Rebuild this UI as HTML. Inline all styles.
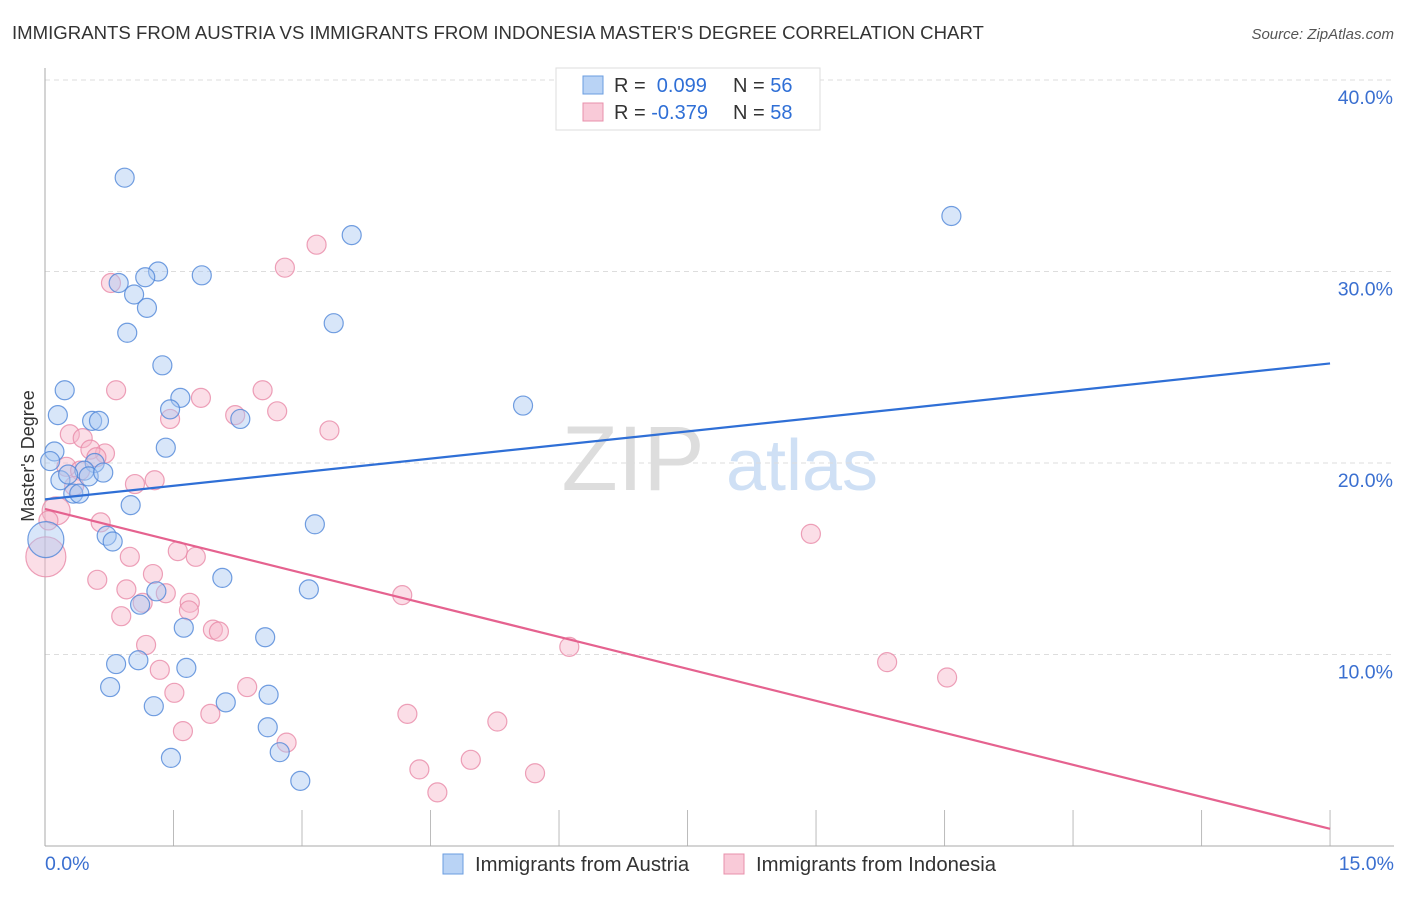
<!DOCTYPE html>
<html><head><meta charset="utf-8"><style>
body{margin:0;background:#fff;font-family:"Liberation Sans",sans-serif}
svg text{font-family:"Liberation Sans",sans-serif}
</style></head><body>
<svg id="chart" width="1406" height="892">
<text x="12" y="39" font-size="18.6" fill="#333">IMMIGRANTS FROM AUSTRIA VS IMMIGRANTS FROM INDONESIA MASTER'S DEGREE CORRELATION CHART</text>
<text x="1394" y="39" font-size="15" fill="#555" font-style="italic" text-anchor="end">Source: ZipAtlas.com</text>
<g>
<text x="633" y="490" font-size="92" fill="#ddd" font-family="Liberation Serif, serif" text-anchor="middle">ZIP</text>
<text x="802" y="490" font-size="72" fill="#cfe0f5" text-anchor="middle">atlas</text>
</g>
<g id="grid"></g>
<line x1="45" y1="68" x2="45" y2="846" stroke="#aaa"/>
<line x1="45" y1="846" x2="1394" y2="846" stroke="#aaa"/>
<text x="34" y="456" font-size="18" fill="#333" transform="rotate(-90 34 456)" text-anchor="middle">Master's Degree</text>
<text x="45" y="870" font-size="19.5" fill="#3a6fd0">0.0%</text>
<text x="1394" y="870" font-size="19.5" fill="#3a6fd0" text-anchor="end">15.0%</text>
<g id="points"></g>
<g id="trends"></g>
<g>
<rect x="556" y="68" width="264" height="62" fill="#fff" stroke="#ddd"/>
<rect x="583" y="76" width="20" height="18" fill="#b9d3f5" stroke="#6a9de0"/>
<rect x="583" y="103" width="20" height="18" fill="#f9cad8" stroke="#e890ab"/>
<text x="614" y="92" font-size="20" fill="#333">R = <tspan fill="#2f6fd6">&#160;0.099</tspan><tspan x="733">N = </tspan><tspan fill="#2f6fd6">56</tspan></text>
<text x="614" y="119" font-size="20" fill="#333">R = <tspan fill="#2f6fd6">-0.379</tspan><tspan x="733">N = </tspan><tspan fill="#2f6fd6">58</tspan></text>
</g>
<g>
<rect x="443" y="854" width="20" height="20" fill="#b9d3f5" stroke="#6a9de0"/>
<text x="475" y="871" font-size="20.3" fill="#333">Immigrants from Austria</text>
</g>
<g>
<rect x="724" y="854" width="20" height="20" fill="#f9cad8" stroke="#e890ab"/>
<text x="756" y="871" font-size="20.3" fill="#333">Immigrants from Indonesia</text>
</g>
</svg>
<script>
const yTicks=[10,20,30,40];
const yTickLabels=["10.0%","20.0%","30.0%","40.0%"];
const xTicks=[1.5,3,4.5,6,7.5,9,10.5,12,13.5,15];
const austriaX=[0.93,10.58,3.58,1.32,1.17,1.83,0.86,1.04,1.19,3.37,0.96,1.37,0.23,1.58,5.58,0.15,1.46,0.55,0.63,2.28,1.41,0.11,0.06,0.58,0.46,0.18,0.51,0.68,0.27,0.33,0.40,1.00,3.15,0.72,0.79,0.01,2.07,3.08,1.30,1.11,1.62,2.57,1.09,0.83,1.65,0.76,1.27,2.61,2.11,2.60,1.47,2.74,2.98];
const austriaY=[34.9,32.9,31.9,30.0,29.7,29.8,29.4,28.8,28.1,27.3,26.8,25.1,23.8,23.4,23.0,22.5,22.8,22.2,22.2,22.3,20.8,20.6,20.1,20.0,19.6,19.1,19.3,19.5,19.4,18.4,18.4,17.8,16.8,16.2,15.9,16.0,14.0,13.4,13.3,12.6,11.4,10.9,9.7,9.5,9.3,8.3,7.3,7.9,7.5,6.2,4.6,4.9,3.4];
const indoX=[0.77,3.17,2.80,0.83,1.82,2.54,1.46,2.71,2.22,3.32,0.29,0.44,0.70,0.53,0.60,0.25,0.41,1.05,1.28,0.34,0.13,0.04,0.01,0.65,8.94,1.55,1.76,0.99,0.61,1.26,0.95,1.41,1.69,1.14,1.68,0.89,1.18,4.17,6.12,1.96,2.03,1.34,9.83,10.53,1.51,2.36,1.61,1.93,2.82,4.23,4.37,4.58,4.97,5.28,5.72];
const indoY=[29.4,31.4,30.2,23.8,23.4,23.8,22.3,22.7,22.5,21.7,21.5,21.3,20.5,20.7,20.3,19.8,19.6,18.9,19.1,18.8,17.5,17.0,15.1,16.9,16.3,15.4,15.1,15.1,13.9,14.2,13.4,13.2,12.7,12.7,12.3,12.0,10.5,13.1,10.4,11.3,11.2,9.2,9.6,8.8,8.0,8.3,6.0,6.9,5.4,6.9,4.0,2.8,4.5,6.5,3.8];
const austriaTrend=[18.1,25.2];
const indoTrend=[17.6,0.9];
const xs=v=>45+v*85.67, ys=v=>846-v*19.15;
const NS="http://www.w3.org/2000/svg";
function mk(t,a,p){const e=document.createElementNS(NS,t);for(const k in a)e.setAttribute(k,a[k]);p.appendChild(e);return e;}
const grid=document.getElementById('grid');
yTicks.forEach((t,i)=>{
 const l=mk('line',{x1:45,x2:1394,y1:ys(t),y2:ys(t),stroke:'#ddd','stroke-dasharray':'5,4'},grid);
 
 
 const tx=mk('text',{x:1393,y:ys(t)+24,'font-size':19.5,fill:'#3a6fd0','text-anchor':'end'},grid);
 tx.textContent=yTickLabels[i];
 
 
});
xTicks.forEach(t=>{
 const l=mk('line',{x1:xs(t),x2:xs(t),y1:810,y2:846,stroke:'#bbb'},grid);
 
 
});
const pg=document.getElementById('points');
function pts(X,Y,fill,stroke,name,big){
 X.forEach((x,i)=>{
  const r=big[i]||9.5;
  const c=mk('circle',{cx:xs(x),cy:ys(Y[i]),r:r,fill:fill,'fill-opacity':0.45,stroke:stroke,'stroke-width':1.2,'stroke-opacity':0.8},pg);
  
  
 });
}
pts(indoX,indoY,'#f7b6ca','#e88aa8','indonesia-point',{20:14,22:20});
pts(austriaX,austriaY,'#a9c8f2','#4f86d8','austria-point',{35:18});
const tg=document.getElementById('trends');
const b=mk('line',{x1:xs(0),y1:ys(austriaTrend[0]),x2:xs(15),y2:ys(austriaTrend[1]),stroke:'#2f6fd6','stroke-width':2.2},tg);


const p=mk('line',{x1:xs(0),y1:ys(indoTrend[0]),x2:xs(15),y2:ys(indoTrend[1]),stroke:'#e5628f','stroke-width':2.2},tg);


</script>
</body></html>
